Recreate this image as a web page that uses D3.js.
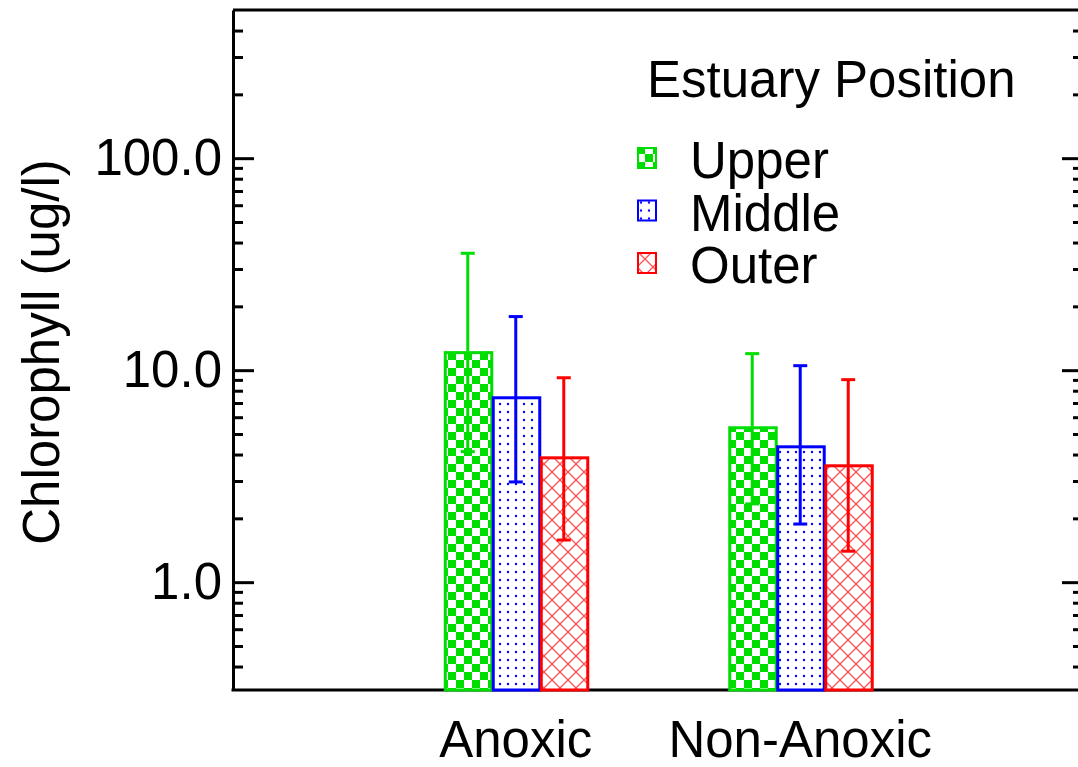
<!DOCTYPE html>
<html>
<head>
<meta charset="utf-8">
<script src="https://cdn.jsdelivr.net/npm/d3@7"></script>
<style>
  body { margin: 0; background: #fff; }
  text { font-family: "Liberation Sans", Arial, sans-serif; fill: #000; }
</style>
</head>
<body>
<div class="canva"></div>
<script>
var width = 1078;
var height = 767;
var fontSize = 51;

// data
const categories = ['Anoxic', 'Non-Anoxic'];
const series = ['Upper', 'Middle', 'Outer'];
const upperMean = [12.1, 5.35];
const upperLow = [4.13, 2.34];
const upperHigh = [35.6, 11.97];
const middleMean = [7.41, 4.35];
const middleLow = [2.97, 1.88];
const middleHigh = [17.9, 10.5];
const outerMean = [3.86, 3.54];
const outerLow = [1.58, 1.40];
const outerHigh = [9.21, 9.02];
const yMajor = [1, 10, 100];
const yMinor = [0.4, 0.5, 0.6, 0.7, 0.8, 0.9, 2, 3, 4, 5, 6, 7, 8, 9,
                20, 30, 40, 50, 60, 70, 80, 90, 200, 300, 400];
const yDomain = [0.31, 500];

const colors = { Upper: '#00dd00', Middle: '#0000ff', Outer: '#ff0000' };
const fills = { Upper: 'url(#checker)', Middle: 'url(#dots)', Outer: 'url(#hatch)' };

const means = [upperMean, middleMean, outerMean];
const lows = [upperLow, middleLow, outerLow];
const highs = [upperHigh, middleHigh, outerHigh];

const rows = [];
categories.forEach((c, ci) => {
  series.forEach((s, si) => {
    rows.push({ cat: c, ser: s, mean: means[si][ci], low: lows[si][ci], high: highs[si][ci] });
  });
});

const margin = { top: 10, right: -5, bottom: 77, left: 233 };

const svg = d3.select('.canva').append('svg')
  .attr('width', width)
  .attr('height', height);

const defs = svg.append('defs');

// checkerboard (Upper)
const pc = defs.append('pattern').attr('id', 'checker')
  .attr('patternUnits', 'userSpaceOnUse').attr('width', 16).attr('height', 16);
pc.append('rect').attr('width', 16).attr('height', 16).attr('fill', '#fff');
pc.append('rect').attr('width', 8).attr('height', 8).attr('fill', colors.Upper);
pc.append('rect').attr('x', 8).attr('y', 8).attr('width', 8).attr('height', 8).attr('fill', colors.Upper);

// dots (Middle)
const pd = defs.append('pattern').attr('id', 'dots')
  .attr('patternUnits', 'userSpaceOnUse').attr('width', 8).attr('height', 8);
pd.append('rect').attr('width', 8).attr('height', 8).attr('fill', '#fff');
pd.append('circle').attr('cx', 4).attr('cy', 4).attr('r', 1.2).attr('fill', colors.Middle);

// crosshatch (Outer)
const ph = defs.append('pattern').attr('id', 'hatch')
  .attr('patternUnits', 'userSpaceOnUse').attr('width', 16).attr('height', 16);
ph.append('rect').attr('width', 16).attr('height', 16).attr('fill', '#fff');
ph.append('path').attr('d', 'M0,0L16,16M16,0L0,16')
  .attr('stroke', '#ff5050').attr('stroke-width', 1.3).attr('fill', 'none');

const x0 = d3.scaleBand()
  .domain(categories)
  .range([margin.left, width - margin.right])
  .paddingInner(0)
  .paddingOuter(0.494);

const x1 = d3.scaleBand()
  .domain(series)
  .range([-72, 72]);

const y = d3.scaleLog()
  .domain(yDomain)
  .range([height - margin.bottom, margin.top]);

const xc = d => x0(d.cat) + x0.bandwidth() / 2 + x1(d.ser);

// frame lines
const xL = x0.range()[0], xR = x0.range()[1];
svg.append('line').attr('x1', xL).attr('x2', xR)
  .attr('y1', y(yDomain[1])).attr('y2', y(yDomain[1]))
  .attr('stroke', '#000').attr('stroke-width', 3);
svg.append('line').attr('x1', xL - 1.5).attr('x2', xR)
  .attr('y1', y(yDomain[0])).attr('y2', y(yDomain[0]))
  .attr('stroke', '#000').attr('stroke-width', 3);

function styleAxis(g) {
  g.selectAll('path').attr('stroke', '#000').attr('stroke-width', 3);
  g.selectAll('line').attr('stroke', '#000').attr('stroke-width', 3);
}

// left axis
const left = svg.append('g').attr('transform', `translate(${xL},0)`)
  .call(d3.axisLeft(y).tickValues(yMajor).tickSizeInner(-21).tickSizeOuter(0)
    .tickPadding(11).tickFormat(d3.format('.1f')));
left.selectAll('text').attr('font-size', fontSize).attr('font-family', '"Liberation Sans", Arial, sans-serif')
  .attr('fill', '#000');
styleAxis(left);
const leftMinor = svg.append('g').attr('transform', `translate(${xL},0)`)
  .call(d3.axisLeft(y).tickValues(yMinor).tickSize(-10).tickFormat(''));
leftMinor.select('.domain').remove();
styleAxis(leftMinor);

// right axis
const right = svg.append('g').attr('transform', `translate(${xR},0)`)
  .call(d3.axisRight(y).tickValues(yMajor).tickSizeInner(-21).tickSizeOuter(0).tickFormat(''));
styleAxis(right);
const rightMinor = svg.append('g').attr('transform', `translate(${xR},0)`)
  .call(d3.axisRight(y).tickValues(yMinor).tickSize(-10).tickFormat(''));
rightMinor.select('.domain').remove();
styleAxis(rightMinor);

// bars
svg.selectAll('rect.bar')
  .data(rows)
  .enter().append('rect')
  .attr('class', 'bar')
  .attr('x', d => xc(d) + 1.5)
  .attr('width', x1.bandwidth() - 1.5)
  .attr('y', d => y(d.mean))
  .attr('height', d => y(yDomain[0]) - y(d.mean))
  .attr('fill', d => fills[d.ser])
  .attr('stroke', d => colors[d.ser])
  .attr('stroke-width', 3);

// error bars
const err = svg.selectAll('g.err')
  .data(rows)
  .enter().append('g')
  .attr('class', 'err')
  .attr('stroke', d => colors[d.ser])
  .attr('stroke-width', 3);
err.append('line')
  .attr('x1', d => xc(d) + x1.bandwidth() / 2).attr('x2', d => xc(d) + x1.bandwidth() / 2)
  .attr('y1', d => y(d.low)).attr('y2', d => y(d.high));
err.append('line')
  .attr('x1', d => xc(d) + x1.bandwidth() / 2 - 7).attr('x2', d => xc(d) + x1.bandwidth() / 2 + 7)
  .attr('y1', d => y(d.high)).attr('y2', d => y(d.high));
err.append('line')
  .attr('x1', d => xc(d) + x1.bandwidth() / 2 - 7).attr('x2', d => xc(d) + x1.bandwidth() / 2 + 7)
  .attr('y1', d => y(d.low)).attr('y2', d => y(d.low));

// category labels
svg.selectAll('text.cat')
  .data(categories)
  .enter().append('text')
  .attr('class', 'cat')
  .attr('x', d => x0(d) + x0.bandwidth() / 2)
  .attr('y', 757)
  .attr('text-anchor', 'middle')
  .attr('font-size', fontSize)
  .text(d => d);

// y title
svg.append('text')
  .attr('transform', 'translate(59,352) rotate(-90)')
  .attr('text-anchor', 'middle')
  .attr('font-size', fontSize)
  .text('Chlorophyll (ug/l)');

// legend
const legend = svg.append('g').attr('transform', 'translate(637,0)');
legend.append('text')
  .attr('x', 10).attr('y', 97)
  .attr('font-size', fontSize)
  .text('Estuary Position');
const item = legend.selectAll('g.item')
  .data(series)
  .enter().append('g')
  .attr('class', 'item')
  .attr('transform', (d, i) => `translate(0,${178 + i * 52.5})`);
item.append('rect')
  .attr('x', 1).attr('y', -30).attr('width', 18).attr('height', 20)
  .attr('fill', d => fills[d])
  .attr('stroke', d => colors[d])
  .attr('stroke-width', 2);
item.append('text')
  .attr('x', 53).attr('y', 0)
  .attr('font-size', fontSize)
  .text(d => d);
</script>
</body>
</html>
